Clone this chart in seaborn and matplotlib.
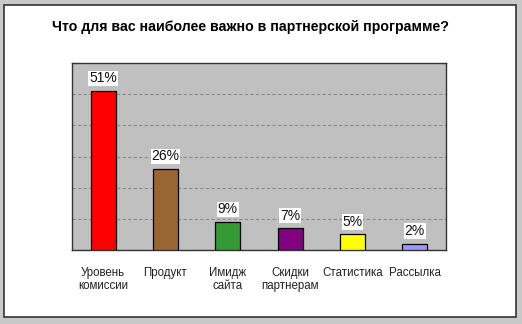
import matplotlib
matplotlib.use("Agg")
import matplotlib.pyplot as plt
import seaborn as sns
import pandas as pd
from matplotlib.patches import Rectangle

categories = ["Уровень\nкомиссии", "Продукт", "Имидж\nсайта", "Скидки\nпартнерам", "Статистика", "Рассылка"]
values = [51, 26, 9, 7, 5, 2]
colors = ["#ff0000", "#996633", "#339933", "#800080", "#ffff00", "#9999ff"]
title = "Что для вас наиболее важно в партнерской программе?"

sns.set_theme(style="white")
plt.rcParams['font.family'] = ['Liberation Sans Narrow', 'Liberation Sans', 'DejaVu Sans']

df = pd.DataFrame({"cat": categories, "val": values})

fig = plt.figure(figsize=(5.22, 3.24), dpi=100)
fig.patch.set_facecolor("#c8c8c8")
panel = Rectangle((4/522, 1 - 317/324), 512/522, 312/324, transform=fig.transFigure,
                  facecolor="white", edgecolor="#333333", linewidth=1.2, zorder=-10)
fig.patches.append(panel)

ax = fig.add_axes([72/522, 1 - 250/324, 374/522, 187/324])
ax.set_zorder(5)
ax.set_facecolor("#c0c0c0")
sns.barplot(data=df, x="cat", y="val", hue="cat", palette=colors, legend=False,
            width=0.4, edgecolor="black", linewidth=0.9, saturation=1, ax=ax, zorder=3)
ax.set_ylim(0, 60)
ax.set_yticks([10, 20, 30, 40, 50])
ax.yaxis.grid(True, color="#8c8c8c", linestyle=(0, (3, 2)), linewidth=0.8, zorder=1)
ax.set_axisbelow(True)
ax.tick_params(axis="y", left=False, labelleft=False)
ax.tick_params(axis="x", bottom=False, labelsize=8.3, pad=6, colors="#222222")
ax.set_xlabel("")
ax.set_ylabel("")
for s in ax.spines.values():
    s.set_color("#333333")
    s.set_linewidth(1.0)

for i, v in enumerate(values):
    ax.annotate(f"{v}%", (i, v), xytext=(0, 4), textcoords="offset points",
                ha="center", va="bottom", fontsize=10, color="#111111",
                bbox=dict(facecolor="white", edgecolor="none", pad=0.6), zorder=5)

fig.text(251/522, 1 - 27/324, title, ha="center", va="center",
         fontsize=10.2, fontweight="bold", color="black")

fig.savefig("out.png", dpi=100, facecolor=fig.get_facecolor())
